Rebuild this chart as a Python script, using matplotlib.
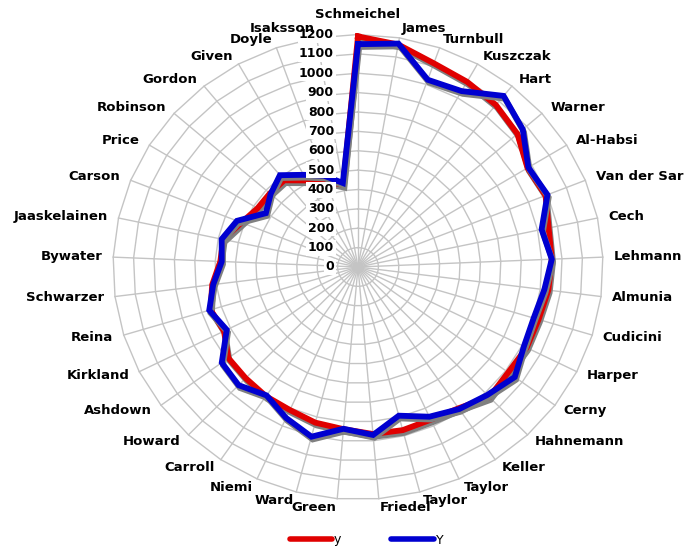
import numpy as np
import matplotlib
matplotlib.use("Agg")
import matplotlib.pyplot as plt
import matplotlib.patheffects as pe

categories = ["Schmeichel", "James", "Turnbull", "Kuszczak", "Hart", "Warner", "Al-Habsi",
              "Van der Sar", "Cech", "Lehmann", "Almunia", "Cudicini", "Harper", "Cerny",
              "Hahnemann", "Keller", "Taylor", "Taylor", "Friedel", "Green", "Ward", "Niemi",
              "Carroll", "Howard", "Ashdown", "Kirkland", "Reina", "Schwarzer", "Bywater",
              "Jaaskelainen", "Carson", "Price", "Robinson", "Gordon", "Given", "Doyle", "Isaksson"]
y_values = [1190, 1165, 1115, 1095, 1075, 1040, 975, 990, 955, 950, 940, 925, 925, 915, 930,
            880, 865, 870, 865, 840, 830, 810, 805, 795, 790, 735, 755, 720, 675, 675, 615,
            578, 575, 575, 512, 470, 430]
Y_values = [1150, 1170, 1025, 1040, 1135, 1075, 980, 1000, 920, 950, 920, 900, 910, 955, 915,
            885, 848, 793, 870, 838, 905, 855, 800, 845, 830, 720, 762, 715, 668, 683, 639,
            530, 570, 609, 545, 500, 440]
series_names = ["y", "Y"]
r_ticks = list(range(0, 1300, 100))

W, H = 685, 548
fig = plt.figure(figsize=(W / 100, H / 100), dpi=100)
cx, cy, rx, ry = 358, 267, 245, 232.5
ax = fig.add_axes([(cx - rx) / W, (H - cy - ry) / H, 2 * rx / W, 2 * ry / H], projection="polar")
ax.set_aspect("auto")
ax.set_theta_zero_location("N")
ax.set_theta_direction(-1)
ax.set_ylim(0, 1200)
ax.set_xticks([])
ax.set_yticks([])
ax.grid(False)
ax.spines["polar"].set_visible(False)
ax.patch.set_visible(False)

n = len(categories)
theta = np.arange(n) * 2 * np.pi / n
theta_closed = np.append(theta, theta[0])

gridc = "#c4c4c4"
for k in r_ticks[1:]:
    ax.plot(theta_closed, [k] * (n + 1), color=gridc, lw=1.0, zorder=1, clip_on=False)
for t in theta:
    ax.plot([t, t], [0, 1200], color=gridc, lw=1.0, zorder=1, clip_on=False)

shadow = [pe.SimpleLineShadow(offset=(0.9, -2.0), shadow_color="#808080", alpha=1.0),
          pe.Normal()]
colors = ["#e00000", "#0000d0"]
for vals, col, name in zip([y_values, Y_values], colors, series_names):
    v = np.append(vals, vals[0])
    ax.plot(theta_closed, v, color=col, lw=4.2, zorder=2, clip_on=False,
            solid_joinstyle="miter", path_effects=shadow, label=name)

for k in r_ticks:
    ax.annotate(str(k), xy=(0, k), xytext=(-24, 0), textcoords="offset pixels",
                ha="right", va="center", fontsize=9.0, fontweight="bold",
                family="DejaVu Sans", zorder=5, annotation_clip=False,
                bbox=dict(boxstyle="square,pad=0.12", fc="white", ec="none"))

for t, name in zip(theta, categories):
    s, c = np.sin(t), np.cos(t)
    if abs(s) < 0.05:
        ha = "center"
        off = (0, 20 if c > 0 else -20)
    else:
        ha = "left" if s > 0 else "right"
        off = (11 * s, 9 * c)
    ax.annotate(name, xy=(t, 1200), xytext=off, textcoords="offset pixels",
                ha=ha, va="center", fontsize=9.5, fontweight="bold",
                family="DejaVu Sans", annotation_clip=False, zorder=5)

leg_handles = [plt.Line2D([], [], color=c, lw=4, solid_capstyle="round") for c in colors]
fig.legend(leg_handles, series_names, loc="center", bbox_to_anchor=(366.5 / W, 1 - 540 / H),
           ncol=2, frameon=False, handlelength=3.4, handletextpad=0.15, columnspacing=4.0,
           prop={"family": "DejaVu Sans", "size": 9})

fig.savefig("out.png", dpi=100)
